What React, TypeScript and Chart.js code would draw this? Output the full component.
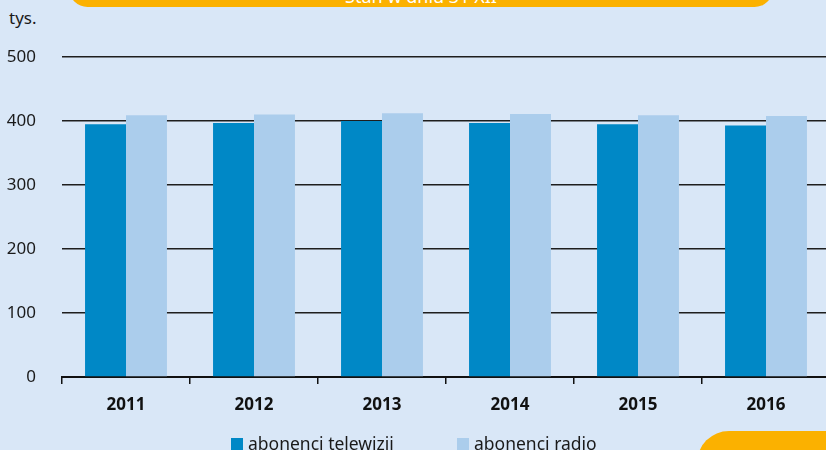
import React, { useEffect, useRef } from "react";
import { Chart, registerables } from "chart.js";

Chart.register(...registerables);

const categories = ["2011", "2012", "2013", "2014", "2015", "2016"];
const tvSubscribers = [395, 397, 400, 397, 395, 393];
const radioSubscribers = [409, 410, 412, 411, 409, 408];
const yTicks = [0, 100, 200, 300, 400, 500];
const seriesLabels = ["abonenci telewizji", "abonenci radio"];
const unitLabel = "tys.";
const headerText = "Stan w dniu 31 XII";

const BG = "#d9e7f7";
const TV = "#0088c6";
const RADIO = "#abcdec";
const ORANGE = "#fbb100";
const INK = "#1a1a1a";
const FONT = "'Noto Sans', sans-serif";

export default function App() {
  const ref = useRef<HTMLCanvasElement | null>(null);

  useEffect(() => {
    if (!ref.current) return;
    const chart = new Chart(ref.current, {
      type: "bar",
      data: {
        labels: categories,
        datasets: [
          { label: seriesLabels[0], data: tvSubscribers, backgroundColor: TV, borderWidth: 0 },
          { label: seriesLabels[1], data: radioSubscribers, backgroundColor: RADIO, borderWidth: 0 },
        ],
      },
      options: {
        responsive: false,
        animation: false,
        devicePixelRatio: 1,
        layout: { padding: { top: 57, left: 0, right: 10, bottom: 23 } },
        datasets: { bar: { categoryPercentage: 0.64, barPercentage: 1.0 } },
        plugins: { legend: { display: false }, tooltip: { enabled: false } },
        scales: {
          x: {
            afterFit: (s: any) => { s.height = 50; },
            grid: {
              offset: true,
              drawOnChartArea: false,
              drawTicks: true,
              tickLength: 7,
              color: "#111",
              lineWidth: 1.5,
            },
            border: { display: true, color: "#111", width: 2 },
            ticks: {
              color: "#111",
              padding: 11,
              font: { family: FONT, size: 17, weight: "bold" },
            },
          },
          y: {
            min: 0,
            max: 500,
            afterFit: (s: any) => { s.width = 62; },
            afterBuildTicks: (s: any) => { s.ticks = yTicks.map((v) => ({ value: v })); },
            grid: { color: "#1e1e1e", lineWidth: 1.5, drawTicks: false },
            border: { display: false },
            ticks: {
              color: INK,
              padding: 26,
              font: { family: FONT, size: 17 },
            },
          },
        },
      },
    });
    return () => chart.destroy();
  }, []);

  const legendItem = (color: string, text: string, left: number) => (
    <div style={{ position: "absolute", left, top: 433, display: "flex", alignItems: "center", whiteSpace: "nowrap" }}>
      <div style={{ width: 12, height: 12, background: color, marginRight: 5, marginTop: 2 }} />
      <span style={{ fontFamily: FONT, fontSize: 17.5, color: INK, lineHeight: "20px" }}>{text}</span>
    </div>
  );

  return (
    <div style={{ position: "fixed", left: 0, top: 0, width: 826, height: 450, overflow: "hidden", background: BG }}>
      <div
        style={{
          position: "absolute", left: 69, top: -30, width: 704, height: 37,
          background: ORANGE, borderRadius: 20,
        }}
      />
      <div
        style={{
          position: "absolute", left: 69, top: -13, width: 704, textAlign: "center",
          color: "#fff", fontFamily: FONT, fontSize: 18, lineHeight: "18px", whiteSpace: "nowrap",
        }}
      >
        {headerText}
      </div>
      <div
        style={{
          position: "absolute", left: 9, top: 8, fontFamily: FONT, fontSize: 17, color: INK, lineHeight: "20px",
        }}
      >
        {unitLabel}
      </div>
      <canvas ref={ref} width={840} height={450} style={{ position: "absolute", left: 0, top: 0, width: 840, height: 450 }} />
      {legendItem(TV, seriesLabels[0], 231)}
      {legendItem(RADIO, seriesLabels[1], 457)}
      <div
        style={{
          position: "absolute", left: 697, top: 431, width: 200, height: 60,
          background: ORANGE, borderTopLeftRadius: 32,
        }}
      />
    </div>
  );
}
